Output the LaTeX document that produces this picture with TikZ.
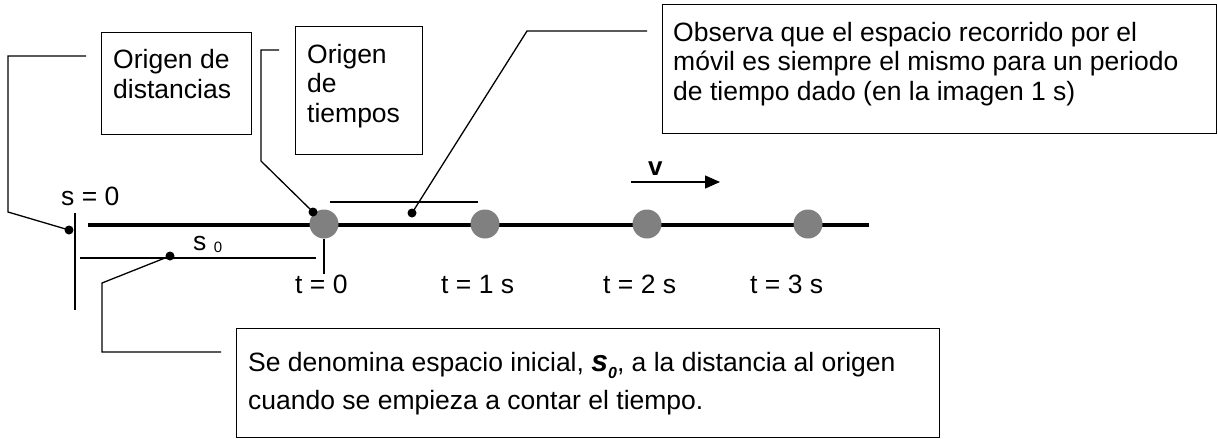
\documentclass[tikz,border=0pt]{standalone}
\usepackage{fontspec}
\setmainfont{Liberation Sans}
\usetikzlibrary{arrows.meta,calc}

\definecolor{mobilegray}{RGB}{128,128,128}

\begin{document}
\begin{tikzpicture}[x=1pt,y=-1pt,
    callbox/.style={draw,line width=1.4pt,inner sep=0pt,anchor=north west},
    calltext/.style={font=\fontsize{26.5}{29.5}\selectfont,align=left,inner sep=0pt,anchor=base west},
    leader/.style={line width=1.3pt},
    tipdot/.style={circle,fill=black,inner sep=0pt,minimum size=9pt},
    mobile/.style={circle,fill=mobilegray,inner sep=0pt,minimum size=29pt},
    lbl/.style={font=\fontsize{26.5}{30}\selectfont,inner sep=0pt,anchor=base west}]
  \useasboundingbox (0,0) rectangle (1218,439);

  % callout boxes (text anchored at the baseline of its last line)
  \node[callbox,minimum width=150,minimum height=102] (distbox) at (101,32) {};
  \node[callbox,minimum width=127,minimum height=128] (timebox) at (295,26) {};
  \node[callbox,minimum width=554,minimum height=129] (obsbox) at (662,4) {};
  \node[callbox,minimum width=703,minimum height=109] (s0box) at (236,328) {};

  \node[calltext] (disttext) at (113,98) {Origen de\\distancias};
  \node[calltext] (timetext) at (307,122) {Origen\\de\\tiempos};
  \node[calltext] (obstext) at (673,100) {Observa que el espacio recorrido por el\\m\'ovil es siempre el mismo para un periodo\\de tiempo dado (en la imagen 1 s)};
  \node[calltext,font=\fontsize{26.5}{38}\selectfont] (s0text) at (248,409)
    {Se denomina espacio inicial, {\fontsize{30}{30}\selectfont\bfseries\itshape s}\raisebox{-7pt}{\fontsize{16}{16}\selectfont\bfseries\itshape 0}, a la distancia al origen\\cuando se empieza a contar el tiempo.};

  % track and mobile
  \coordinate (trackstart) at (88,225);
  \coordinate (trackend) at (869,225);
  \draw[line width=3.8pt] (trackstart) -- (trackend);
  \foreach \x/\lx/\t [count=\i from 0] in {324/295/0,485/441/1 s,647/603/2 s,808/750/3 s}{
    \node[mobile] (m\i) at (\x,224) {};
    \node[lbl] (tlab\i) at (\lx,293) {t = \t};
  }

  % origin and s0
  \coordinate (origtop) at (75,213);
  \coordinate (origbot) at (75,310);
  \draw[line width=1.5pt] (origtop) -- (origbot);
  \node[lbl] (szero) at (61,205) {s = 0};
  \coordinate (s0left) at (80,258);
  \coordinate (s0right) at (316,258);
  \draw[line width=1.3pt] (s0left) -- (s0right);
  \node[lbl] (s0lbl) at (193,250) {s\ \raisebox{-2pt}{\fontsize{15}{15}\selectfont 0}};
  \coordinate (tzero) at (324,274);
  \draw[line width=1.3pt] (m0.south) -- (tzero);
  \coordinate (stepleft) at (330,202);
  \coordinate (stepright) at (478,202);
  \draw[line width=1.3pt] (stepleft) -- (stepright);

  % velocity
  \coordinate (vstart) at (631,182);
  \coordinate (vend) at (720,182);
  \draw[line width=1.3pt,-{Triangle[length=15pt,width=13pt]}] (vstart) -- (vend);
  \node[lbl,font=\fontsize{26}{30}\selectfont\bfseries] (vlbl) at (648,175) {v};

  % leaders
  \coordinate (distfree) at (86,56);
  \coordinate (timefree) at (279,50);
  \coordinate (obsfree) at (647,31);
  \coordinate (s0free) at (221,352);
  \node[tipdot] (distdot) at (69,230) {};
  \node[tipdot] (timedot) at (313,212) {};
  \node[tipdot] (obsdot) at (412,213) {};
  \node[tipdot] (s0dot) at (170,256) {};
  \draw[leader] (distfree) -- ++(-78,0) -- ++(0,156) -- (distdot.center);
  \draw[leader] (timefree) -- ++(-18,0) -- ++(0,111) -- (timedot.center);
  \draw[leader] (obsfree) -- ++(-120,0) -- (obsdot.center);
  \draw[leader] (s0free) -- ++(-119,0) -- ++(0,-69) -- (s0dot.center);
\end{tikzpicture}
\end{document}
